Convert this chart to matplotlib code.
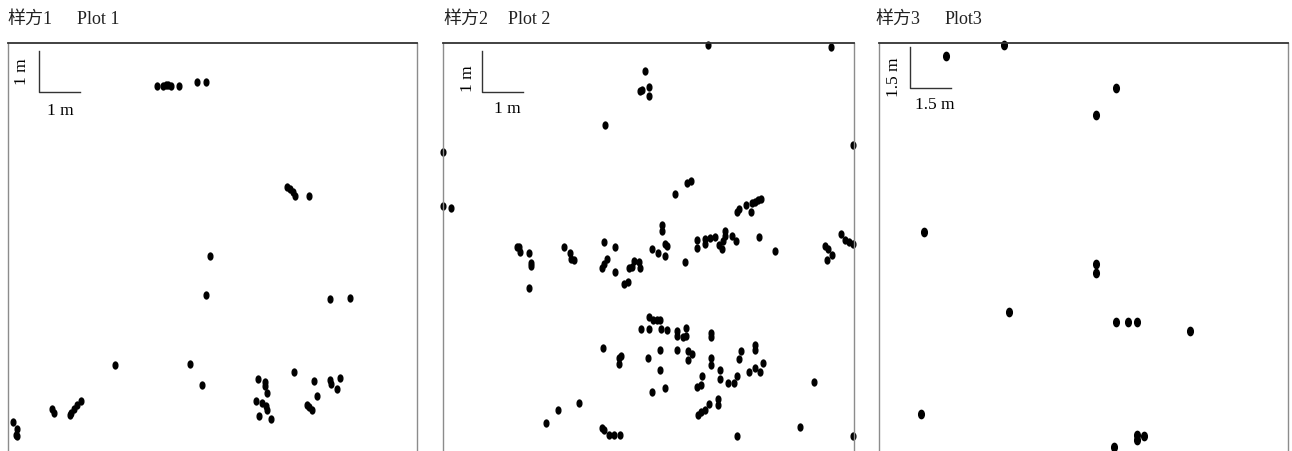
"""Spatial point patterns of three sample plots (样方)."""

import matplotlib
matplotlib.use("Agg")
import matplotlib.pyplot as plt
from matplotlib.path import Path
from matplotlib.transforms import Affine2D

FONT = ["Liberation Serif", "Noto Sans CJK SC", "DejaVu Sans"]
plt.rcParams["font.family"] = FONT

# ---- data: stem positions in metres (x, y) ----
plot1_x = [3.64, 3.79, 3.86, 3.91, 3.99, 4.18, 4.62, 4.84,
           6.82, 6.89, 6.97, 7.02, 7.36, 4.94, 4.84, 7.87, 8.36,
           2.62, 4.45, 4.74, 6.11, 6.28, 6.28, 6.33, 6.99, 7.48,
           7.87, 7.90, 8.12, 8.04, 7.56, 6.06, 6.21, 6.31, 6.33,
           6.14, 6.43, 7.31, 7.36, 7.43, 1.78, 1.69, 1.61, 1.54,
           1.52, 1.08, 1.12, 0.12, 0.22, 0.20, 0.22]
plot1_y = [8.95, 8.95, 8.97, 8.97, 8.95, 8.95, 9.05, 9.05,
           6.48, 6.43, 6.36, 6.26, 6.26, 4.79, 3.84, 3.74, 3.77,
           2.13, 2.15, 1.64, 1.78, 1.71, 1.61, 1.44, 1.96, 1.74,
           1.76, 1.66, 1.81, 1.54, 1.37, 1.25, 1.20, 1.12, 1.03,
           0.88, 0.81, 1.15, 1.10, 1.03, 1.25, 1.15, 1.05, 0.95,
           0.90, 1.05, 0.95, 0.73, 0.56, 0.42, 0.39]

plot2_x = [6.44, 9.43, 4.91, 4.79, 4.84, 5.01, 5.01, 3.94, 0.01, 9.98,
           0.01, 0.19, 5.64, 5.93, 6.03, 7.15, 7.21, 7.37, 7.49, 7.53,
           7.59, 7.66, 7.74, 5.34, 5.34, 9.68, 9.78, 9.88, 9.98,
           1.79, 1.86, 1.87, 2.10, 2.14, 2.14, 2.10, 2.94, 3.09, 3.11,
           3.19, 3.92, 4.19, 4.00, 3.92, 3.88, 4.19, 4.40, 4.49, 4.53,
           4.59, 4.65, 4.77, 4.79,
           5.09, 5.24, 5.40, 5.40, 5.44, 5.89, 6.19, 6.19, 6.37, 6.37,
           6.50, 6.62, 6.72, 6.80, 6.82, 6.86, 6.86, 7.04, 7.12, 7.69,
           8.09, 9.29, 9.37, 9.34, 9.46,
           5.00, 5.12, 5.20, 5.28, 4.81, 5.00, 5.30, 5.46, 5.69, 5.69,
           5.85, 5.91, 5.91, 6.51, 6.51, 3.89, 4.34, 4.28, 4.29, 4.99,
           5.29, 5.69, 5.95, 6.07, 5.96, 6.51, 6.51, 7.24, 7.19, 7.59,
           7.59, 7.79, 7.59, 7.45, 7.71, 5.29, 6.75, 6.29, 6.73, 7.15,
           6.94, 7.07, 6.28, 6.18, 5.39, 5.09, 9.03, 6.70, 6.70, 6.48,
           6.38, 6.28, 6.20, 3.30, 2.80, 2.50, 3.86, 3.92, 4.05, 4.17,
           4.31, 7.16, 8.69, 9.98]
plot2_y = [9.96, 9.91, 9.32, 8.82, 8.86, 8.92, 8.72, 8.01, 7.36, 7.52,
           6.04, 5.98, 6.33, 6.59, 6.64, 5.90, 5.96, 6.07, 5.88, 6.10,
           6.14, 6.18, 6.20, 5.57, 5.43, 5.35, 5.20, 5.17, 5.12,
           5.04, 5.04, 4.92, 4.90, 4.65, 4.57, 4.03, 5.04, 4.88, 4.75,
           4.73, 5.15, 5.04, 4.74, 4.63, 4.53, 4.43, 4.13, 4.18, 4.53,
           4.55, 4.70, 4.68, 4.53,
           4.98, 4.90, 4.82, 5.10, 5.06, 4.68, 5.21, 5.02, 5.22, 5.12,
           5.26, 5.28, 5.09, 5.00, 5.18, 5.43, 5.30, 5.30, 5.18, 5.28,
           4.94, 5.06, 5.00, 4.72, 4.83,
           3.34, 3.26, 3.26, 3.26, 3.04, 3.04, 3.04, 3.02, 3.00, 2.88,
           2.85, 3.06, 2.86, 2.94, 2.85, 2.59, 2.39, 2.34, 2.18, 2.34,
           2.54, 2.54, 2.50, 2.43, 2.29, 2.34, 2.17, 2.50, 2.30, 2.65,
           2.54, 2.22, 2.10, 2.00, 2.00, 2.04, 2.04, 1.89, 1.82, 1.90,
           1.73, 1.73, 1.69, 1.62, 1.60, 1.50, 1.74, 1.34, 1.20, 1.22,
           1.07, 1.03, 0.95, 1.25, 1.07, 0.75, 0.63, 0.59, 0.46, 0.46,
           0.46, 0.44, 0.65, 0.45]

plot3_x = [2.47, 4.58, 8.69, 7.95, 1.66, 7.95, 7.95, 4.78, 8.69,
           9.13, 9.45, 11.40, 1.55, 9.45, 9.45, 9.73, 8.62]
plot3_y = [14.51, 14.93, 13.34, 12.36, 8.08, 6.90, 6.55, 5.12, 4.76,
           4.76, 4.76, 4.45, 1.40, 0.63, 0.45, 0.58, 0.17]

titles_cn = ["样方1", "样方2", "样方3"]
titles_en = ["Plot 1", "Plot 2", "Plot3"]
plot_size = [10, 10, 15]          # side length of each plot, m
scale_len = [1, 1, 1.5]           # scale bar length, m
scale_lbl = ["1 m", "1 m", "1.5 m"]

W, H = 1292, 452
fig = plt.figure(figsize=(W / 100, H / 100), dpi=100)

# panel frames in pixels: left, top, width (square)
frames = [(8, 44, 409), (443, 44, 411), (879, 44, 409)]
title_x = [(7, 77), (443, 508), (875, 945)]
# scale bar corner and label anchors (fraction of the plot side)
bar_corner = [(0.076, 0.880), (0.095, 0.881), (0.076, 0.889)]
vlab_pos = [(0.034, 0.932), (0.061, 0.915), (0.037, 0.919)]
hlab_pos = [(0.127, 0.836), (0.156, 0.842), (0.137, 0.851)]

# elliptical dot, a bit taller than wide
dot = Path.unit_circle().transformed(Affine2D().scale(0.68, 1.0))

xs = [plot1_x, plot2_x, plot3_x]
ys = [plot1_y, plot2_y, plot3_y]

for i in range(3):
    left, top, side = frames[i]
    ax = fig.add_axes([left / W, (H - top - side) / H, side / W, side / H])
    L = plot_size[i]
    ax.set_xlim(0, L)
    ax.set_ylim(0, L)
    ax.set_xticks([])
    ax.set_yticks([])
    ax.spines["top"].set_color("#333333")
    ax.spines["top"].set_linewidth(1.3)
    for s in ("left", "right"):
        ax.spines[s].set_color("#8c8c8c")
        ax.spines[s].set_linewidth(1.0)
    ax.spines["bottom"].set_visible(False)

    ms = 6.0 if i == 2 else 5.0
    ax.plot(xs[i], ys[i], linestyle="none", marker=dot, ms=ms,
            color="black", clip_on=False)

    # scale bar
    cx, cy = bar_corner[i][0] * L, bar_corner[i][1] * L
    d = scale_len[i]
    ax.plot([cx, cx, cx + d], [cy + d, cy, cy], color="#333333", lw=1.0)
    ax.text(vlab_pos[i][0] * L, vlab_pos[i][1] * L, scale_lbl[i],
            rotation=90, ha="center", va="center", fontsize=12.5)
    ax.text(hlab_pos[i][0] * L, hlab_pos[i][1] * L, scale_lbl[i],
            ha="center", va="center", fontsize=12.5)

    # titles above each panel
    fig.text(title_x[i][0] / W, 1 - 19 / H, titles_cn[i],
             ha="left", va="center", fontsize=13, color="#222222")
    fig.text(title_x[i][1] / W, 1 - 19 / H, titles_en[i],
             ha="left", va="center", fontsize=13, color="#222222")

fig.savefig("out.png", dpi=100)
plt.close(fig)
